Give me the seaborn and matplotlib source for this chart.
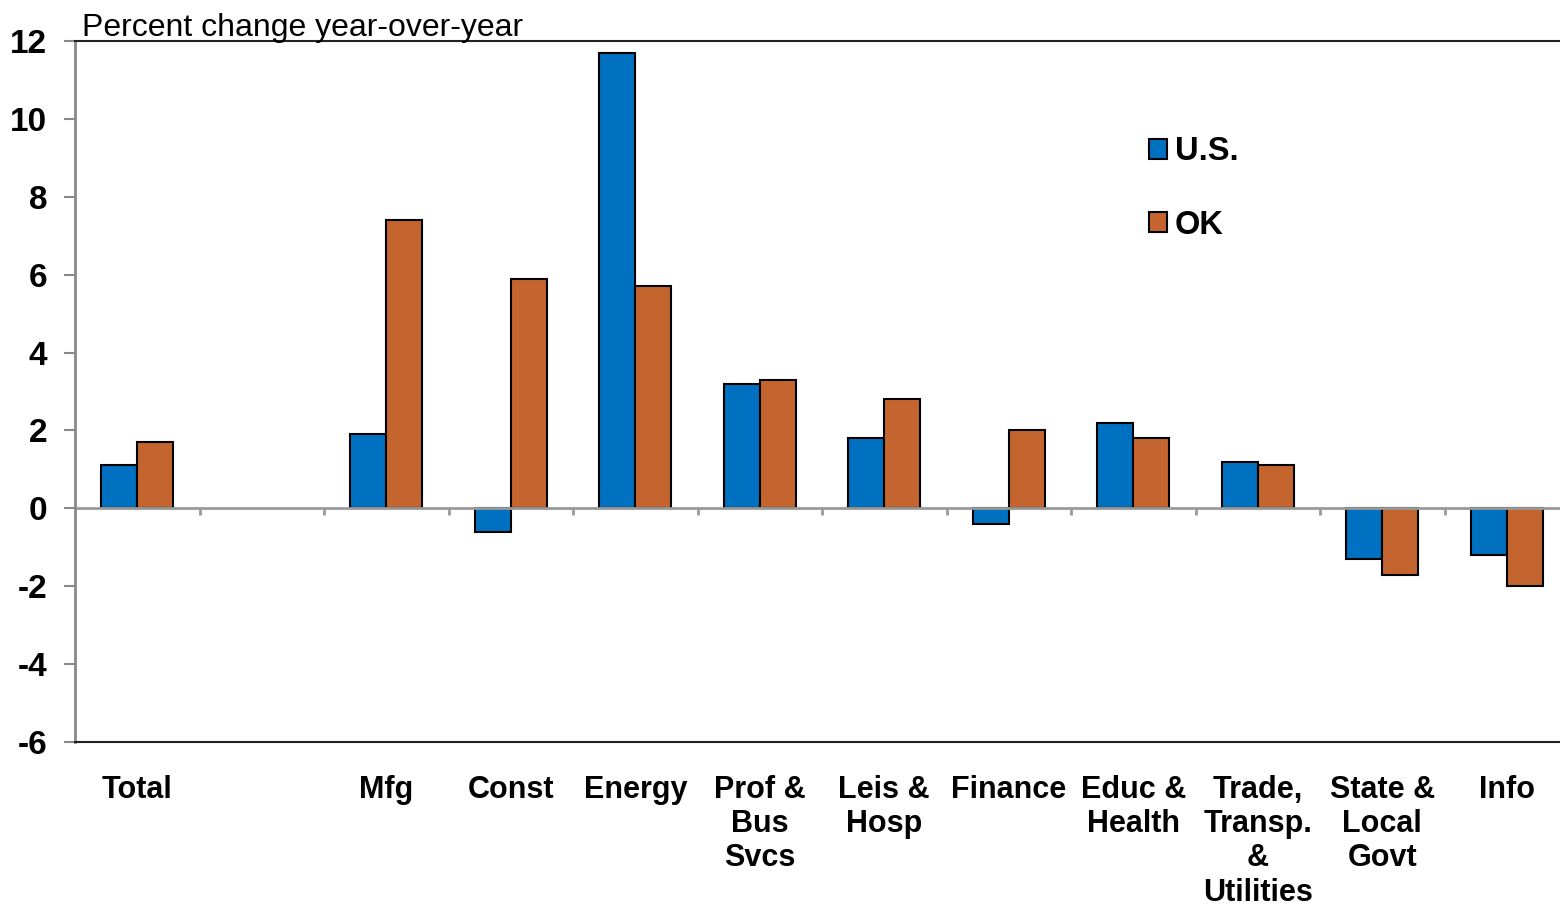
import numpy as np
import pandas as pd
import matplotlib
matplotlib.use("Agg")
import matplotlib.pyplot as plt
import seaborn as sns

categories = ["Total", " ", "Mfg", "Const", "Energy", "Prof &\nBus\nSvcs", "Leis &\nHosp",
              "Finance", "Educ &\nHealth", "Trade,\nTransp.\n&\nUtilities", "State &\nLocal\nGovt", "Info"]
us_values = [1.1, np.nan, 1.9, -0.6, 11.7, 3.2, 1.8, -0.4, 2.2, 1.2, -1.3, -1.2]
ok_values = [1.7, np.nan, 7.4, 5.9, 5.7, 3.3, 2.8, 2.0, 1.8, 1.1, -1.7, -2.0]
series = ["U.S.", "OK"]
colors = ["#0070C0", "#C4652F"]
yticks = [-6, -4, -2, 0, 2, 4, 6, 8, 10, 12]

df = pd.DataFrame({
    "category": categories * 2,
    "series": [series[0]] * len(categories) + [series[1]] * len(categories),
    "value": us_values + ok_values,
})

sns.set_style("white")
plt.rcParams["font.family"] = ["Liberation Sans", "DejaVu Sans"]
plt.rcParams["text.color"] = "black"
plt.rcParams["xtick.labelcolor"] = "black"
plt.rcParams["ytick.labelcolor"] = "black"

fig = plt.figure(figsize=(15.6, 9.05), dpi=100)
ax = fig.add_axes([75 / 1560, 1 - 742 / 905, 1494 / 1560, (742 - 41) / 905])

sns.barplot(data=df, x="category", y="value", hue="series", order=categories,
            hue_order=series, palette=colors, width=0.58, edgecolor="black",
            linewidth=1.5, saturation=1, ax=ax, errorbar=None)

ax.set_xlim(-0.5, len(categories) - 0.5)
ax.set_ylim(-6, 12)
ax.set_yticks(yticks)
ax.set_yticklabels([str(t) for t in yticks], fontsize=24, fontweight="bold", color="black")
ax.tick_params(axis="y", direction="out", length=8, width=1.5, color="#888888", pad=12, left=True)
ax.tick_params(axis="x", length=0, pad=23.5)
for lab in ax.get_xticklabels():
    lab.set_fontsize(22)
    lab.set_fontweight("bold")
    lab.set_color("black")
    lab.set_linespacing(1.19)
    lab.set_verticalalignment("top")
ax.set_xlabel("")
ax.set_ylabel("")

ax.spines["left"].set_color("#888888")
ax.spines["left"].set_linewidth(2)
ax.spines["top"].set_color("#222222")
ax.spines["top"].set_linewidth(1.5)
ax.spines["bottom"].set_color("#222222")
ax.spines["bottom"].set_linewidth(1.5)
ax.spines["right"].set_visible(False)

# zero line with category boundary tick marks
ax.axhline(0, color="#999999", linewidth=2, zorder=1)
bounds = np.arange(len(categories)) - 0.5
ax.vlines(bounds[1:], 0, -0.18, color="#999999", linewidth=2, zorder=1)

fig.text(82 / 1560, 1 - 36 / 905, "Percent change year-over-year",
         fontsize=23, ha="left", va="baseline", color="black")

leg = ax.legend(loc="upper left", bbox_to_anchor=(0.699, 0.906), frameon=False,
                prop={"weight": "bold", "size": 23.5},
                handlelength=0.55, handleheight=0.55, handletextpad=0.25, labelspacing=1.3)
for h in leg.legend_handles:
    h.set_edgecolor("black")
    h.set_linewidth(1.5)
for t in leg.get_texts():
    t.set_color("black")

fig.savefig("out.png", dpi=100)
